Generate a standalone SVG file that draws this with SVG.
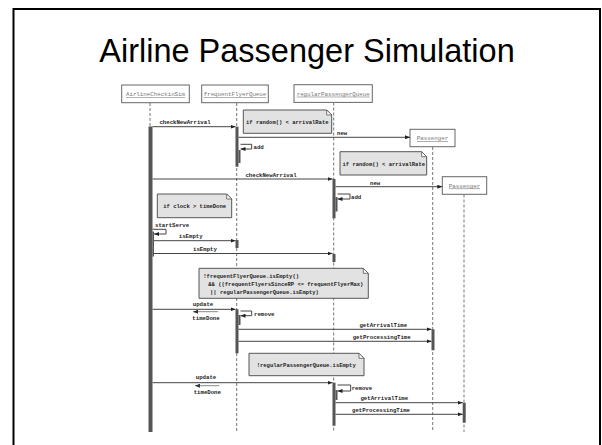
<svg xmlns="http://www.w3.org/2000/svg" width="602" height="445" viewBox="0 0 602 445">
<defs>
<style>
.title{font-family:"Liberation Sans",Arial,sans-serif;font-size:32.5px;fill:#000}
.hd{font-family:"Liberation Mono","DejaVu Sans Mono",monospace;font-size:5.8px;fill:#777;text-decoration:underline}
.lb{font-family:"Liberation Mono","DejaVu Sans Mono",monospace;font-size:5.7px;fill:#222;font-weight:bold}
.nt{font-family:"Liberation Mono","DejaVu Sans Mono",monospace;font-size:5.5px;fill:#222;font-weight:bold}
.box{fill:#fff;stroke:#666;stroke-width:1}
.life{stroke:#777;stroke-width:1;stroke-dasharray:3 2;fill:none}
.act{fill:#555;stroke:none}
.msg{stroke:#444;stroke-width:1;fill:none}
.ret{stroke:#888;stroke-width:1;fill:none}
.note{fill:#e2e2e2;stroke:#555;stroke-width:1}
.fold{fill:#fff;stroke:#555;stroke-width:0.8}
</style>
<marker id="arr" markerUnits="userSpaceOnUse" markerWidth="5" markerHeight="4" refX="5" refY="2" orient="auto">
<path d="M0,0 L5,2 L0,4 z" fill="#222"/>
</marker>
<marker id="arrg" markerUnits="userSpaceOnUse" markerWidth="5" markerHeight="4" refX="5" refY="2" orient="auto">
<path d="M0,0 L5,2 L0,4 z" fill="#333"/>
</marker>
</defs>
<rect width="602" height="445" fill="#fff"/>
<path d="M13.5,460 V9 H600 V460" fill="none" stroke="#000" stroke-width="2"/>
<text class="title" x="307" y="62" text-anchor="middle">Airline Passenger Simulation</text>

<g id="lifelines">
<line class="life" x1="150" y1="103" x2="150" y2="432"/>
<line class="life" x1="236.7" y1="103" x2="236.7" y2="432"/>
<line class="life" x1="333.7" y1="102.5" x2="333.7" y2="432"/>
<line class="life" x1="432.7" y1="147" x2="432.7" y2="432"/>
<line class="life" x1="464" y1="194.5" x2="464" y2="432"/>
</g>

<g id="AirlineCheckinSim">
<rect class="box" x="121.7" y="85" width="67.6" height="17.7"/>
<text class="hd" x="155.5" y="96" text-anchor="middle">AirlineCheckinSim</text>
<rect class="act" x="148.5" y="126.5" width="4" height="305.5"/>
<rect class="act" x="152.5" y="231.5" width="1.5" height="25"/>
</g>
<g id="frequentFlyerQueue">
<rect class="box" x="201.7" y="85" width="66.6" height="17.7"/>
<text class="hd" x="235" y="96" text-anchor="middle">frequentFlyerQueue</text>
<rect class="act" x="235.5" y="126.7" width="3" height="40"/>
<rect class="act" x="238.5" y="150" width="2" height="13"/>
<rect class="act" x="235.5" y="240" width="3" height="8"/>
<rect class="act" x="235.5" y="309.3" width="3" height="44"/>
<rect class="act" x="238.5" y="315" width="2" height="10"/>
</g>
<g id="regularPassengerQueue">
<rect class="box" x="294" y="84.7" width="78.3" height="17.7"/>
<text class="hd" x="333.2" y="95.7" text-anchor="middle">regularPassengerQueue</text>
<rect class="act" x="332.5" y="179" width="3" height="39.3"/>
<rect class="act" x="335.5" y="197" width="2" height="14.5"/>
<rect class="act" x="332.5" y="254" width="3" height="8"/>
<rect class="act" x="332.5" y="382.7" width="3" height="43"/>
<rect class="act" x="335.5" y="390" width="2" height="10"/>
</g>
<g id="Passenger1">
<rect class="box" x="410" y="129.3" width="45" height="17.4"/>
<text class="hd" x="432.5" y="140" text-anchor="middle">Passenger</text>
<rect class="act" x="431.5" y="329.3" width="3" height="21"/>
</g>
<g id="Passenger2">
<rect class="box" x="442.3" y="176.7" width="44.4" height="17.6"/>
<text class="hd" x="464.5" y="187.5" text-anchor="middle">Passenger</text>
<rect class="act" x="462.7" y="402.7" width="3" height="20"/>
</g>

<g id="note1">
<path class="note" d="M243.3,110 H326.7 L331.7,115 V133.3 H243.3 Z"/>
<path class="fold" d="M326.7,110 V115 H331.7 Z"/>
<text class="nt" x="246" y="123.5">if random() &lt; arrivalRate</text>
</g>
<g id="note2">
<path class="note" d="M340,151.7 H421.7 L426.7,156.7 V175 H340 Z"/>
<path class="fold" d="M421.7,151.7 V156.7 H426.7 Z"/>
<text class="nt" x="342.5" y="165.5">if random() &lt; arrivalRate</text>
</g>
<g id="note3">
<path class="note" d="M157.3,194 H226.7 L231.7,199 V217.7 H157.3 Z"/>
<path class="fold" d="M226.7,194 V199 H231.7 Z"/>
<text class="nt" x="163.3" y="208">if clock &gt; timeDone</text>
</g>
<g id="note4">
<path class="note" d="M199,268.3 H363.3 L368.3,273.3 V298.3 H199 Z"/>
<path class="fold" d="M363.3,268.3 V273.3 H368.3 Z"/>
<text class="nt" x="203.3" y="278">!frequentFlyerQueue.isEmpty()</text>
<text class="nt" x="208.3" y="285.5">&amp;&amp; ((frequentFlyersSinceRP &lt;= frequentFlyerMax)</text>
<text class="nt" x="210" y="294">|| regularPassengerQueue.isEmpty)</text>
</g>
<g id="note5">
<path class="note" d="M249,353.3 H359 L364,358.3 V375.7 H249 Z"/>
<path class="fold" d="M359,353.3 V358.3 H364 Z"/>
<text class="nt" x="256.7" y="366.5">!regularPassengerQueue.isEmpty</text>
</g>

<g id="connectors">
<line class="msg" x1="152.5" y1="126.7" x2="235.5" y2="126.7" marker-end="url(#arr)"/>
<text class="lb" x="185" y="124" text-anchor="middle">checkNewArrival</text>
<path class="msg" d="M240.5,144.3 H251.7 V149 H240.5" marker-end="url(#arr)"/>
<text class="lb" x="253.5" y="149">add</text>
<line class="msg" x1="238.5" y1="137.3" x2="410" y2="137.3" marker-end="url(#arr)"/>
<text class="lb" x="337" y="134.5">new</text>

<line class="msg" x1="152.5" y1="179" x2="332.5" y2="179" marker-end="url(#arr)"/>
<text class="lb" x="271" y="176.5" text-anchor="middle">checkNewArrival</text>
<path class="msg" d="M337.5,194 H350 V199 H337.5" marker-end="url(#arr)"/>
<text class="lb" x="351" y="198.5">add</text>
<line class="msg" x1="335.5" y1="186.7" x2="442.3" y2="186.7" marker-end="url(#arr)"/>
<text class="lb" x="370" y="184.5">new</text>

<path class="msg" d="M152.5,229.3 H166 V234 H154" marker-end="url(#arr)"/>
<text class="lb" x="155" y="226.5">startServe</text>
<line class="msg" x1="154" y1="240.7" x2="235.5" y2="240.7" marker-end="url(#arr)"/>
<text class="lb" x="190.7" y="238" text-anchor="middle">isEmpty</text>
<line class="msg" x1="154" y1="253.5" x2="332.5" y2="253.5" marker-end="url(#arr)"/>
<text class="lb" x="205" y="251" text-anchor="middle">isEmpty</text>

<line class="msg" x1="152.5" y1="309.3" x2="235.5" y2="309.3" marker-end="url(#arr)"/>
<text class="lb" x="203" y="306" text-anchor="middle">update</text>
<line class="ret" x1="218" y1="311.7" x2="193" y2="311.7" marker-end="url(#arrg)"/>
<text class="lb" x="206" y="320" text-anchor="middle">timeDone</text>
<path class="msg" d="M240.5,311 H251.7 V315.7 H240.5" marker-end="url(#arr)"/>
<text class="lb" x="254" y="316">remove</text>
<line class="msg" x1="238.5" y1="329.3" x2="431.5" y2="329.3" marker-end="url(#arr)"/>
<text class="lb" x="383.3" y="327" text-anchor="middle">getArrivalTime</text>
<line class="msg" x1="238.5" y1="341.3" x2="431.5" y2="341.3" marker-end="url(#arr)"/>
<text class="lb" x="381.7" y="339" text-anchor="middle">getProcessingTime</text>

<line class="msg" x1="152.5" y1="382.7" x2="332.5" y2="382.7" marker-end="url(#arr)"/>
<text class="lb" x="206" y="379" text-anchor="middle">update</text>
<line class="ret" x1="219.3" y1="385.7" x2="195" y2="385.7" marker-end="url(#arrg)"/>
<text class="lb" x="207.3" y="393.5" text-anchor="middle">timeDone</text>
<path class="msg" d="M337.5,385 H350.7 V391 H337.5" marker-end="url(#arr)"/>
<text class="lb" x="351.7" y="390">remove</text>
<line class="msg" x1="335.5" y1="402.7" x2="462.7" y2="402.7" marker-end="url(#arr)"/>
<text class="lb" x="384.3" y="400" text-anchor="middle">getArrivalTime</text>
<line class="msg" x1="335.5" y1="414.3" x2="462.7" y2="414.3" marker-end="url(#arr)"/>
<text class="lb" x="381" y="412" text-anchor="middle">getProcessingTime</text>
</g>
</svg>
